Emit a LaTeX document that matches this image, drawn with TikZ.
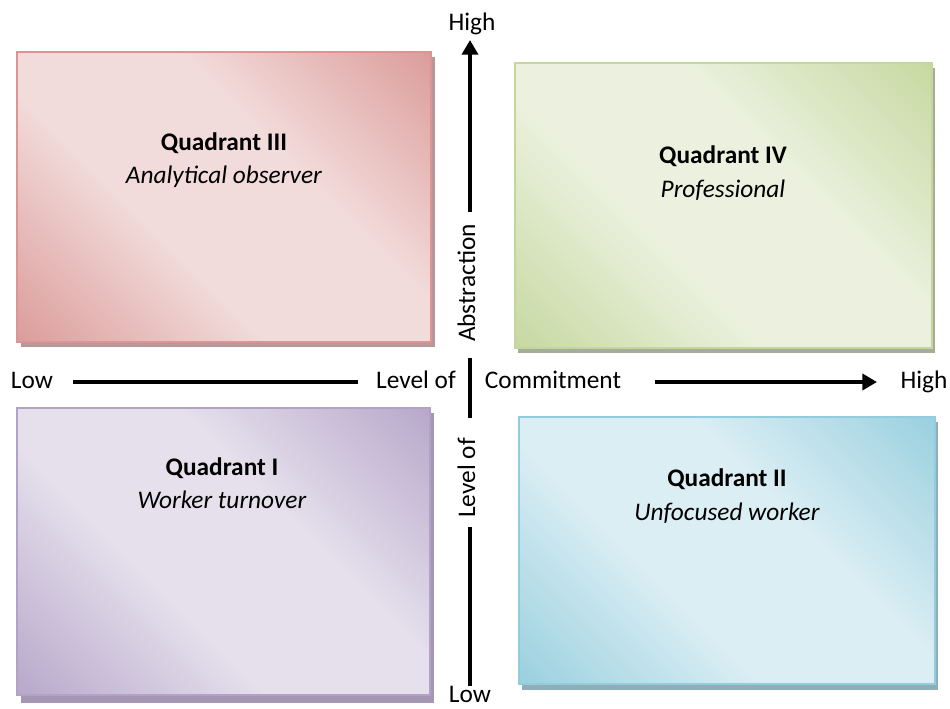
\documentclass[tikz,border=0pt]{standalone}
\usepackage{fontspec}
\setmainfont{Carlito}
\usetikzlibrary{arrows.meta}

\definecolor{redlt}{HTML}{F2DCDB}
\definecolor{reddk}{HTML}{D99694}
\definecolor{redsh}{HTML}{B99697}
\definecolor{grnlt}{HTML}{EBF1DE}
\definecolor{grndk}{HTML}{C3D69B}
\definecolor{grnsh}{HTML}{A6AC99}
\definecolor{purlt}{HTML}{E5E0EC}
\definecolor{purdk}{HTML}{B3A2C7}
\definecolor{pursh}{HTML}{A597B3}
\definecolor{blult}{HTML}{DBEEF4}
\definecolor{bludk}{HTML}{93CDDD}
\definecolor{blush}{HTML}{8FAEB8}
\colorlet{qdk}{reddk}
\colorlet{qlt}{redlt}

\pgfdeclarehorizontalshading[qdk,qlt]{quadshade}{100bp}{color(0bp)=(qdk); color(12bp)=(qdk); color(40bp)=(qlt); color(60bp)=(qlt); color(88bp)=(qdk); color(100bp)=(qdk)}

\tikzset{
  quad/.style 2 args={/utils/exec={\colorlet{qdk}{#1}\colorlet{qlt}{#2}},
    shading=quadshade, shading angle=45, draw=#1, line width=1.5},
  quadtext/.style={align=center, inner sep=0pt},
  lbl/.style={inner sep=0pt},
  axis/.style={line width=3pt},
  axisarrow/.style={axis, -{Triangle[length=11pt,width=12pt]}}
}

\begin{document}
\begin{tikzpicture}[x=0.75pt,y=-0.75pt,font=\fontsize{19}{25}\selectfont]
	\useasboundingbox (0,0) rectangle (950,708);

	% quadrant boxes
	\fill[redsh] (21,57) rectangle (435,347);
	\path[quad={reddk}{redlt}] (17,52) rectangle (431,342);
	\fill[grnsh] (518,68) rectangle (935,353);
	\path[quad={grndk}{grnlt}] (515,63) rectangle (932,348);
	\fill[pursh] (21,413) rectangle (434,703);
	\path[quad={purdk}{purlt}] (17,408) rectangle (430,695);
	\fill[blush] (522,422) rectangle (938,690);
	\path[quad={bludk}{blult}] (519,417) rectangle (935,684);

	\node[quadtext] (q3) at (224,160) {\textbf{Quadrant III}\\\textit{Analytical observer}};
	\node[quadtext] (q4) at (723,173) {\textbf{Quadrant IV}\\\textit{Professional}};
	\node[quadtext] (q1) at (222,483) {\textbf{Quadrant I}\\\textit{Worker turnover}};
	\node[quadtext] (q2) at (727,496) {\textbf{Quadrant II}\\\textit{Unfocused worker}};

	% axis labels
	\node[lbl, anchor=base] (lowh) at (32,388) {Low};
	\node[lbl, anchor=base] (lvlh) at (416,388) {Level of};
	\node[lbl, anchor=base] (commit) at (553,388) {Commitment};
	\node[lbl, anchor=base] (highh) at (924,388) {High};
	\node[lbl, anchor=base] (highv) at (472,30) {High};
	\node[lbl, anchor=base] (lowv) at (470,702) {Low};
	\node[lbl, anchor=base, rotate=90] (abst) at (475,283) {Abstraction};
	\node[lbl, anchor=base, rotate=90] (lvlv) at (475,478) {Level of};

	% axes
	\coordinate (h1) at (73,382);
	\coordinate (h2) at (358,382);
	\coordinate (h3) at (655,382);
	\coordinate (h4) at (877,382);
	\coordinate (v1) at (470,212);
	\coordinate (v2) at (470,40);
	\coordinate (v3) at (470,358);
	\coordinate (v4) at (470,418);
	\coordinate (v5) at (470,527);
	\coordinate (v6) at (470,686);
	\draw[axis] (h1) -- (h2);
	\draw[axisarrow] (h3) -- (h4);
	\draw[axisarrow] (v1) -- (v2);
	\draw[axis] (v3) -- (v4);
	\draw[axis] (v5) -- (v6);
\end{tikzpicture}
\end{document}
